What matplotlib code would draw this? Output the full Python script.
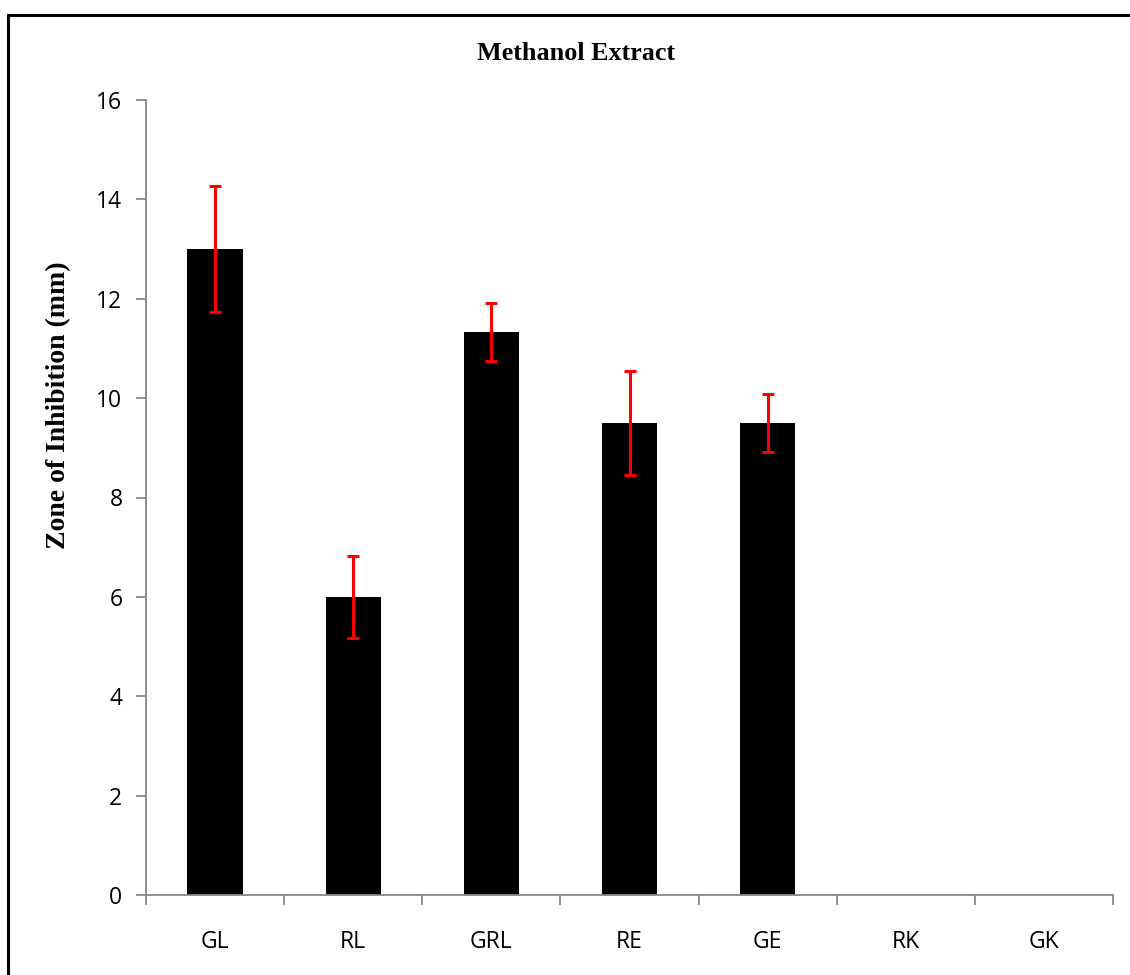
import matplotlib.pyplot as plt
import numpy as np
from matplotlib.patches import Rectangle

# Data
samples = ["GL", "RL", "GRL", "RE", "GE", "RK", "GK"]
zone_mm = [13.0, 6.0, 11.33, 9.5, 9.5, 0.0, 0.0]
zone_err = [1.27, 0.82, 0.58, 1.05, 0.58, 0.0, 0.0]
y_ticks = [0, 2, 4, 6, 8, 10, 12, 14, 16]

W, H = 1130, 975
fig = plt.figure(figsize=(W / 100, H / 100), dpi=100)
ax = fig.add_axes([146 / W, 1 - 895 / H, (1113 - 146) / W, (895 - 100) / H])

x = np.arange(len(samples))
has_bar = np.array(zone_mm) > 0
ax.bar(x[has_bar], np.array(zone_mm)[has_bar], width=0.4, color="black")
ax.errorbar(x[has_bar], np.array(zone_mm)[has_bar], yerr=np.array(zone_err)[has_bar],
            fmt="none", ecolor="red", elinewidth=2.2, capsize=4.5, capthick=2.2)

ax.set_xlim(-0.5, len(samples) - 0.5)
ax.set_ylim(0, 16)
ax.set_yticks(y_ticks)

# category boundaries as ticks, labels at centres
ax.set_xticks(np.arange(len(samples) + 1) - 0.5)
ax.set_xticklabels([])
ax.set_xticks(x, minor=True)
ax.set_xticklabels(samples, minor=True, fontsize=16.5, family="Open Sans")
ax.tick_params(axis="x", which="major", direction="out", length=7, color="#888888", width=1.3)
ax.tick_params(axis="x", which="minor", length=0, pad=25)
ax.tick_params(axis="y", direction="out", length=7, color="#888888", width=1.3, labelsize=16.5, pad=10)
for lbl in ax.get_yticklabels():
    lbl.set_family("Open Sans")

for side in ["top", "right"]:
    ax.spines[side].set_visible(False)
for side in ["left", "bottom"]:
    ax.spines[side].set_color("#888888")
    ax.spines[side].set_linewidth(1.3)

fig.text(59 / W, 1 - 405 / H, "Zone of Inhibition (mm)", family="Liberation Serif",
         fontweight="bold", fontsize=20, rotation=90, ha="center", va="center")
fig.text(576 / W, 1 - 53 / H, "Methanol Extract", family="Liberation Serif",
         fontweight="bold", fontsize=18.8, ha="center", va="center")

# outer frame (right and bottom edges run off the picture)
fig.patches.append(Rectangle((8 / W, -0.05), 1.2, 1 - 15 / H + 0.05,
                             transform=fig.transFigure, fill=False,
                             edgecolor="black", linewidth=2.2))

fig.savefig("out.png", dpi=100)
